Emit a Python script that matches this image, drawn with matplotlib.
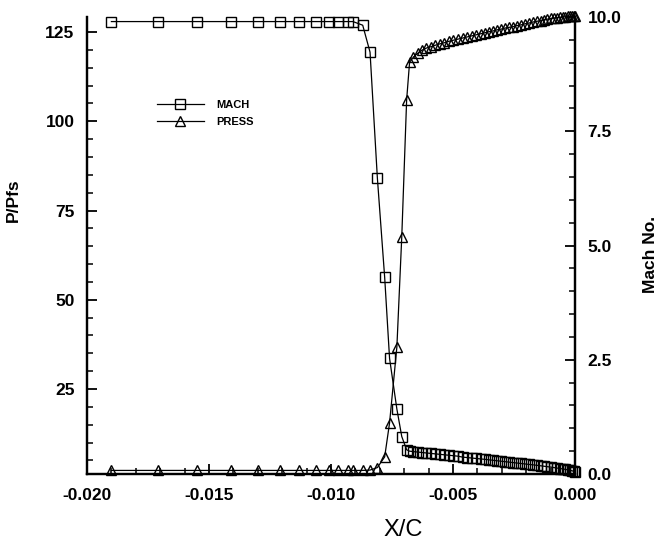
import matplotlib
matplotlib.use("Agg")
import matplotlib.pyplot as plt
from matplotlib.ticker import MultipleLocator, FormatStrFormatter

plt.rcParams['font.family'] = ['Liberation Sans', 'DejaVu Sans']
plt.rcParams['axes.unicode_minus'] = False

# x/c stations (shared by both curves)
x_c = [-0.0190, -0.0171, -0.0155, -0.0141, -0.0130, -0.0121, -0.0113, -0.0106,
       -0.0101, -0.0097, -0.0093, -0.0091, -0.0087, -0.0084, -0.0081, -0.0078,
       -0.0076, -0.0073, -0.0071, -0.0069,
       -0.00678, -0.00662, -0.00645, -0.00627, -0.00609, -0.00590, -0.00572,
       -0.00553, -0.00535, -0.00516, -0.00498, -0.00480, -0.00461, -0.00443,
       -0.00424, -0.00406, -0.00387, -0.00369, -0.00352, -0.00336, -0.00320,
       -0.00303, -0.00287, -0.00270, -0.00254, -0.00238, -0.00221, -0.00205,
       -0.00189, -0.00172, -0.00156, -0.00141, -0.00127, -0.00113, -0.00098,
       -0.00086, -0.00074, -0.00061, -0.00049, -0.00039, -0.00029, -0.00020,
       -0.00012, -0.00006, 0.0]

mach = [9.90, 9.90, 9.90, 9.90, 9.90, 9.90, 9.90, 9.90,
        9.90, 9.90, 9.90, 9.90, 9.82, 9.23, 6.48, 4.30,
        2.53, 1.42, 0.82, 0.53,
        0.50, 0.49, 0.48, 0.47, 0.46, 0.45, 0.44,
        0.43, 0.42, 0.41, 0.40, 0.39, 0.37, 0.36,
        0.35, 0.34, 0.33, 0.32, 0.31, 0.30, 0.29,
        0.28, 0.27, 0.26, 0.25, 0.24, 0.23, 0.22,
        0.21, 0.20, 0.19, 0.18, 0.17, 0.16, 0.15,
        0.14, 0.13, 0.12, 0.11, 0.10, 0.09, 0.08,
        0.07, 0.06, 0.05]

press = [2.2, 2.2, 2.2, 2.2, 2.2, 2.2, 2.2, 2.2,
         2.2, 2.2, 2.2, 2.2, 2.2, 2.3, 3.0, 6.0,
         15.5, 36.8, 67.6, 106.0,
         116.5, 118.0, 119.0, 119.9, 120.5, 120.9, 121.3,
         121.7, 122.0, 122.4, 122.7, 123.0, 123.3, 123.6,
         123.9, 124.2, 124.5, 124.8, 125.1, 125.3, 125.6,
         125.8, 126.1, 126.3, 126.5, 126.8, 127.0, 127.3,
         127.5, 127.8, 128.0, 128.2, 128.4, 128.6, 128.8,
         128.9, 129.0, 129.1, 129.2, 129.3, 129.4, 129.4,
         129.5, 129.5, 129.5]

fig = plt.figure(figsize=(6.6, 5.48), dpi=100)
ax = fig.add_axes([87 / 660, 74 / 548, 488 / 660, 457 / 548])
ax2 = ax.twinx()

line_style = dict(color='black', lw=0.9, markersize=6.5, fillstyle='none',
                  markeredgewidth=1.0, clip_on=False)
l1, = ax2.plot(x_c, mach, marker='s', label='MACH', **line_style)
l2, = ax.plot(x_c, press, marker='^', label='PRESS', **line_style)

ax.set_xlim(-0.020, 0.0)
ax.set_ylim(1.2, 129.2)
ax2.set_ylim(0, 10)

ax.xaxis.set_major_locator(MultipleLocator(0.005))
ax.xaxis.set_minor_locator(MultipleLocator(0.001))
ax.xaxis.set_major_formatter(FormatStrFormatter('%.3f'))
ax.yaxis.set_major_locator(MultipleLocator(25))
ax.yaxis.set_minor_locator(MultipleLocator(5))
ax2.yaxis.set_major_locator(MultipleLocator(2.5))
ax2.yaxis.set_minor_locator(MultipleLocator(0.5))
ax2.yaxis.set_major_formatter(FormatStrFormatter('%.1f'))

for a in (ax, ax2):
    a.spines['top'].set_visible(False)
    for s in ('left', 'right', 'bottom'):
        a.spines[s].set_linewidth(1.6)
    a.tick_params(which='major', direction='in', length=7, width=1.3,
                  labelsize=12.5, pad=9)
    a.tick_params(which='minor', direction='in', length=4, width=1.1)
    for lab in a.get_xticklabels() + a.get_yticklabels():
        lab.set_fontweight('bold')
ax.tick_params(axis='x', pad=10)
ax.tick_params(axis='y', right=False)
ax2.tick_params(axis='y', left=False)
ax2.tick_params(axis='x', bottom=False)

ax.set_xlabel('X/C', fontsize=17)
ax.xaxis.set_label_coords(0.648, -0.098)
ax.set_ylabel('P/Pfs', fontsize=12.5, fontweight='bold')
ax.yaxis.set_label_coords(-0.135, 0.60)
ax2.set_ylabel('Mach No.', fontsize=12.5, fontweight='bold')
ax2.yaxis.set_label_coords(1.14, 0.48)

fig.legend(handles=[l1, l2], loc='center left', frameon=False,
           bbox_to_anchor=(151 / 660, (548 - 113.5) / 548),
           prop={'weight': 'bold', 'size': 8}, handlelength=4.3,
           handletextpad=1.1, labelspacing=0.6, borderpad=0, numpoints=1)

fig.savefig('out.png', dpi=100)
